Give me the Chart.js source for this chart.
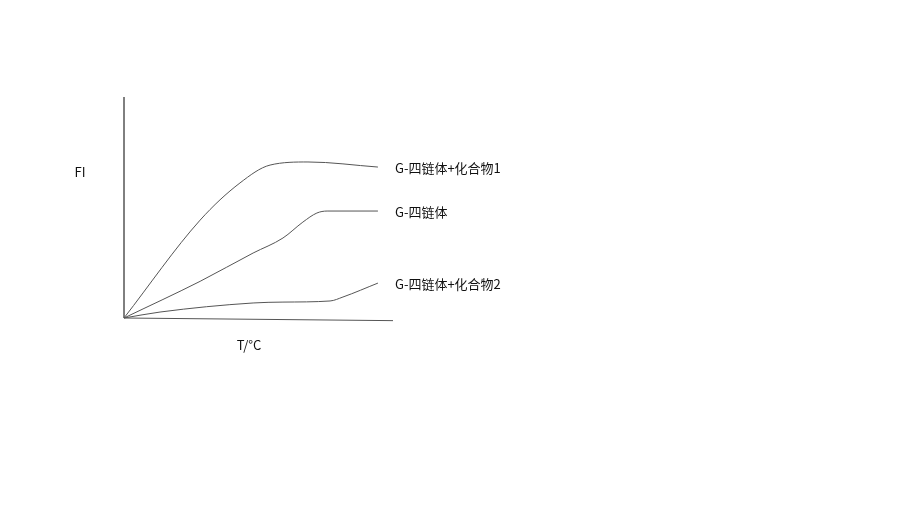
<!DOCTYPE html>
<html>
<head>
<meta charset="utf-8">
<script src="https://cdn.jsdelivr.net/npm/chart.js@4.4.1/dist/chart.umd.min.js"></script>
<style>
  html, body { margin: 0; padding: 0; background: #fff; }
</style>
</head>
<body>
<canvas id="myChart" width="900" height="520"></canvas>
<script>
// Sketch curves: temperature (x) and fluorescence intensity (y), arbitrary units 0-100
const temps1 = [0, 28.3, 43.1, 54.3, 68.4, 94.4];
const fi1    = [0, 44.3, 61.1, 69.2, 70.6, 68.3];
const temps2 = [0, 28.3, 48.0, 59.1, 66.5, 71.7, 75.5, 94.4];
const fi2    = [0, 16.6, 29.4, 36.2, 43.4, 47.5, 48.4, 48.4];
const temps3 = [0, 13.4, 48.0, 59.1, 76.6, 81.4, 94.4];
const fi3    = [0, 2.7, 6.8, 7.2, 7.7, 9.5, 15.8];
const seriesLabels = ['G-四链体+化合物1', 'G-四链体', 'G-四链体+化合物2'];
const yAxisLabel = 'FI';
const xAxisLabel = 'T/°C';

const toPoints = (xs, ys) => xs.map((x, i) => ({x: x, y: ys[i]}));

const lineStyle = {
    borderColor: '#555',
    borderWidth: 1,
    pointRadius: 0,
    cubicInterpolationMode: 'monotone',
    clip: false
};

// draw the axis titles and the series names at the end of each curve
const labelsPlugin = {
    id: 'sketchLabels',
    afterDraw(chart) {
        const ctx = chart.ctx;
        ctx.save();
        ctx.fillStyle = '#111';
        ctx.font = '13px "Noto Sans CJK SC", "Noto Sans", sans-serif';
        ctx.textBaseline = 'middle';
        ctx.textAlign = 'left';
        for (let i = 0; i < 3; i++) {
            const meta = chart.getDatasetMeta(i);
            const last = meta.data[meta.data.length - 1];
            ctx.fillText(seriesLabels[i], last.x + 17, last.y + 1);
        }
        ctx.textAlign = 'center';
        ctx.fillText(yAxisLabel, 80, 172);
        ctx.fillText(xAxisLabel, 249, 345);
        ctx.restore();
    }
};

const ctx = document.getElementById('myChart').getContext('2d');
new Chart(ctx, {
    type: 'line',
    data: {
        datasets: [
            Object.assign({label: seriesLabels[0], data: toPoints(temps1, fi1)}, lineStyle),
            Object.assign({label: seriesLabels[1], data: toPoints(temps2, fi2)}, lineStyle),
            Object.assign({label: seriesLabels[2], data: toPoints(temps3, fi3)}, lineStyle),
            // axes drawn as plain lines through the scales
            {label: 'y-axis', data: [{x: 0, y: 0}, {x: 0, y: 100}], borderColor: '#000', borderWidth: 1, pointRadius: 0, clip: false},
            {label: 'x-axis', data: [{x: 0, y: 0}, {x: 100, y: -1.2}], borderColor: '#555', borderWidth: 1, pointRadius: 0, clip: false}
        ]
    },
    options: {
        responsive: false,
        animation: false,
        layout: {
            padding: {left: 124, top: 97, right: 507, bottom: 202}
        },
        plugins: {
            legend: {display: false},
            tooltip: {enabled: false}
        },
        scales: {
            x: {type: 'linear', min: 0, max: 100, display: false},
            y: {type: 'linear', min: 0, max: 100, display: false}
        }
    },
    plugins: [labelsPlugin]
});
</script>
</body>
</html>
